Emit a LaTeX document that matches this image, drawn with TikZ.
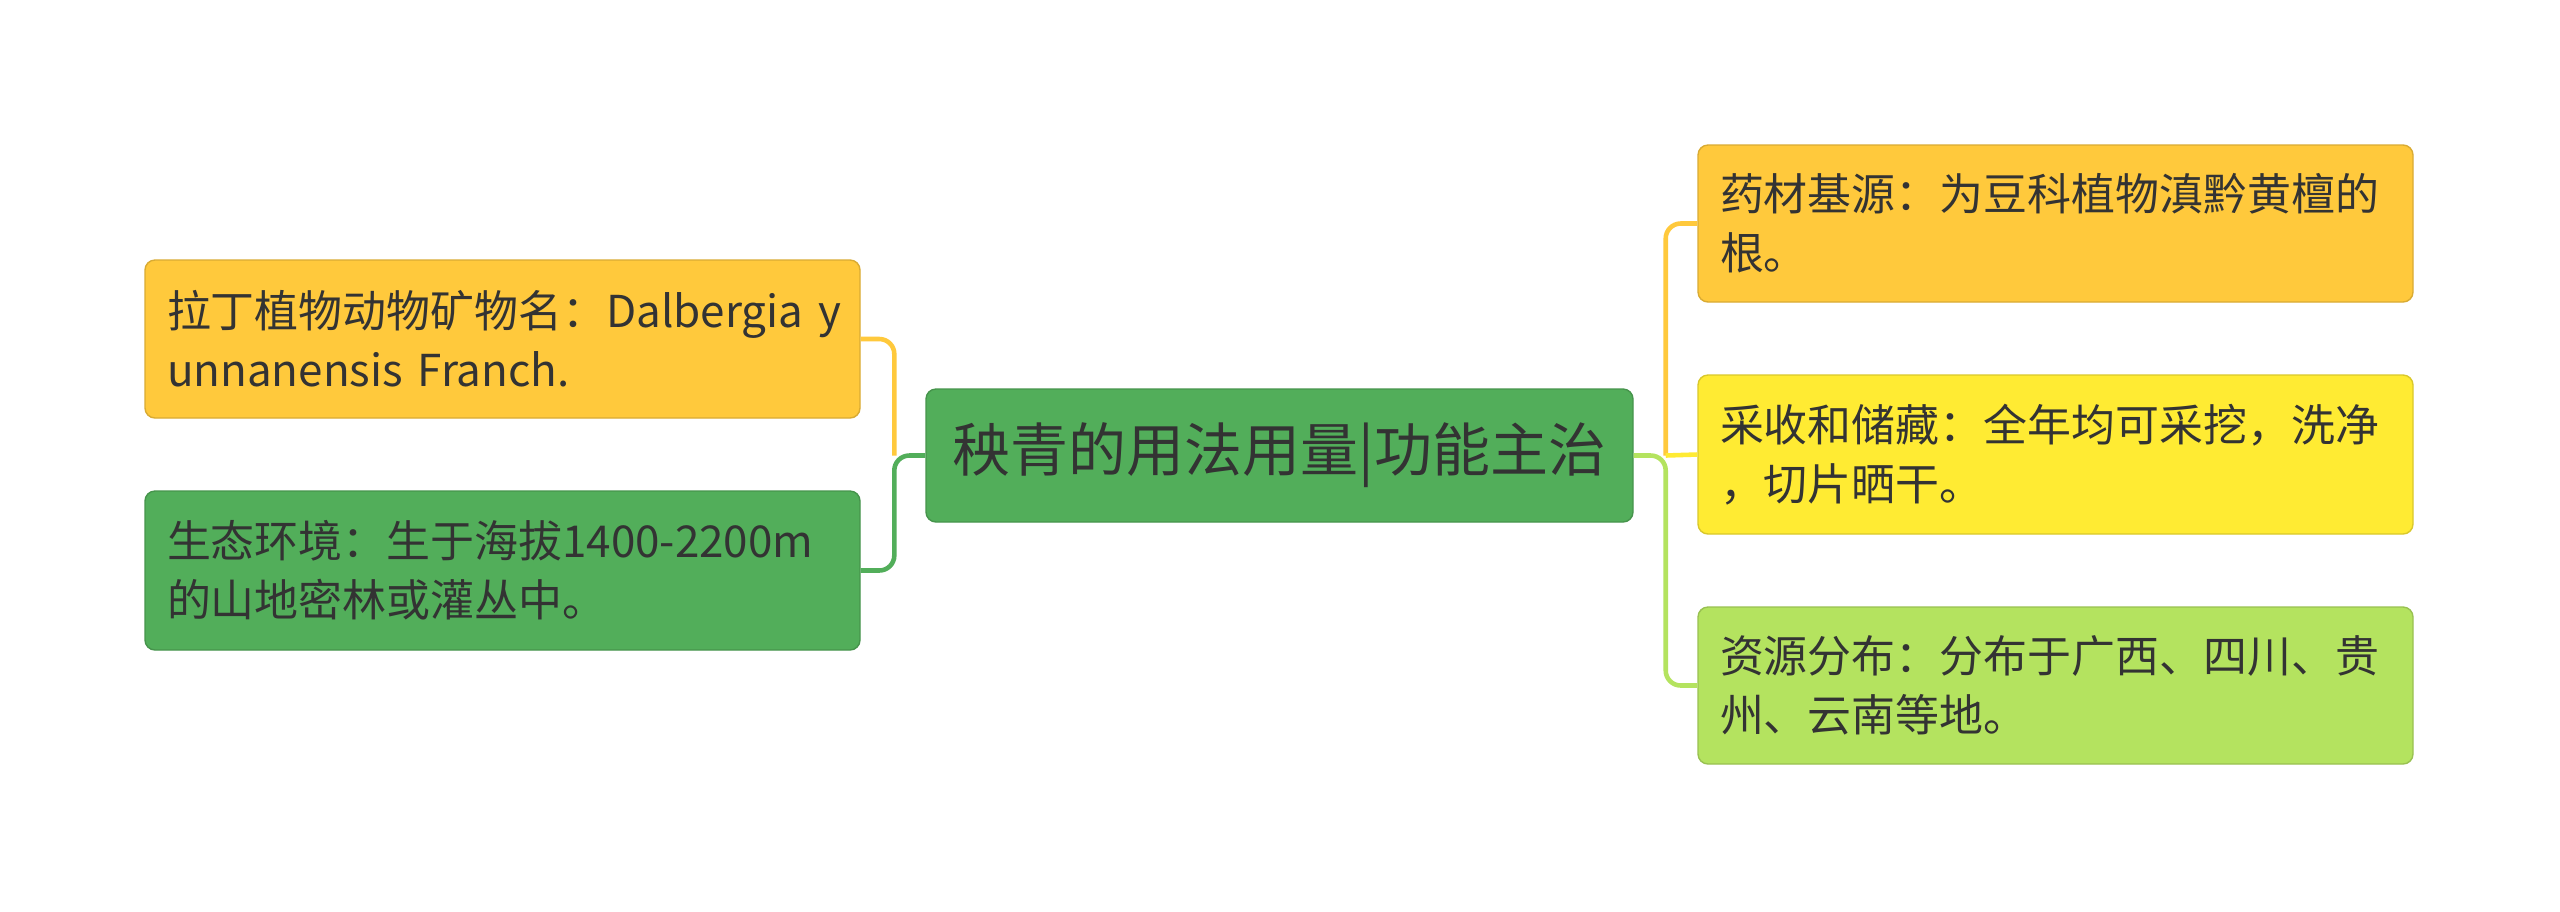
\documentclass[tikz,border=0pt]{standalone}
\usepackage{fontspec}
\setmainfont{Noto Sans CJK SC}
\usepackage{xcolor}
\usetikzlibrary{positioning}
\definecolor{orangey}{HTML}{FFC93C}
\definecolor{yellowy}{HTML}{FFEB33}
\definecolor{greeny}{HTML}{52AE5A}
\definecolor{limey}{HTML}{B4E35F}
\definecolor{ink}{HTML}{333333}

\begin{document}
\begin{tikzpicture}[
  leaf/.style={draw=#1!85!black, line width=0.4pt, fill=#1, rounded corners=0.1cm,
    minimum width=7.15cm, minimum height=1.58cm, text width=6.71cm, align=left,
    inner sep=0pt, text=ink, font=\fontsize{12.5}{16.8}\selectfont},
  hub/.style={draw=greeny!85!black, line width=0.4pt, fill=greeny, rounded corners=0.1cm,
    minimum width=7.07cm, minimum height=1.33cm, inner sep=0pt, text=ink,
    font=\fontsize{16.5}{20}\selectfont},
  link/.style={line width=1.3pt, rounded corners=0.15cm, draw=#1},
]
\useasboundingbox[fill=white] (0,0) rectangle (25.6,-9.11);
% centre
\node[hub] (root) at (12.795,-4.555) {秧青的用法用量|功能主治};
% left side
\node[leaf=orangey] (latin) at (5.025,-3.39) {\mbox{拉丁植物动物矿物名：Dalbergia y}\\unnanensis Franch.};
\node[leaf=greeny, minimum height=1.59cm] (habitat) at (5.025,-5.705) {生态环境：生于海拔1400-2200m\\的山地密林或灌丛中。};
% right side
\node[leaf=orangey, minimum height=1.57cm] (origin) at (20.555,-2.235) {药材基源：为豆科植物滇黔黄檀的\\根。};
\node[leaf=yellowy, minimum height=1.59cm] (harvest) at (20.555,-4.545) {采收和储藏：全年均可采挖，洗净\\，切片晒干。};
\node[leaf=limey, minimum height=1.57cm] (spread) at (20.555,-6.855) {资源分布：分布于广西、四川、贵\\州、云南等地。};
% connectors
\coordinate[left=0.31cm of root.west] (lj);
\coordinate[right=0.32cm of root.east] (rj);
\draw[link=greeny] (root.west) -- (lj) |- (habitat.east);
\draw[link=orangey] (lj) |- (latin.east);
\draw[link=limey] (root.east) -- (rj) |- (spread.west);
\draw[link=orangey] (rj) |- (origin.west);
\draw[link=yellowy] (rj) -- (harvest.west);
\end{tikzpicture}
\end{document}
